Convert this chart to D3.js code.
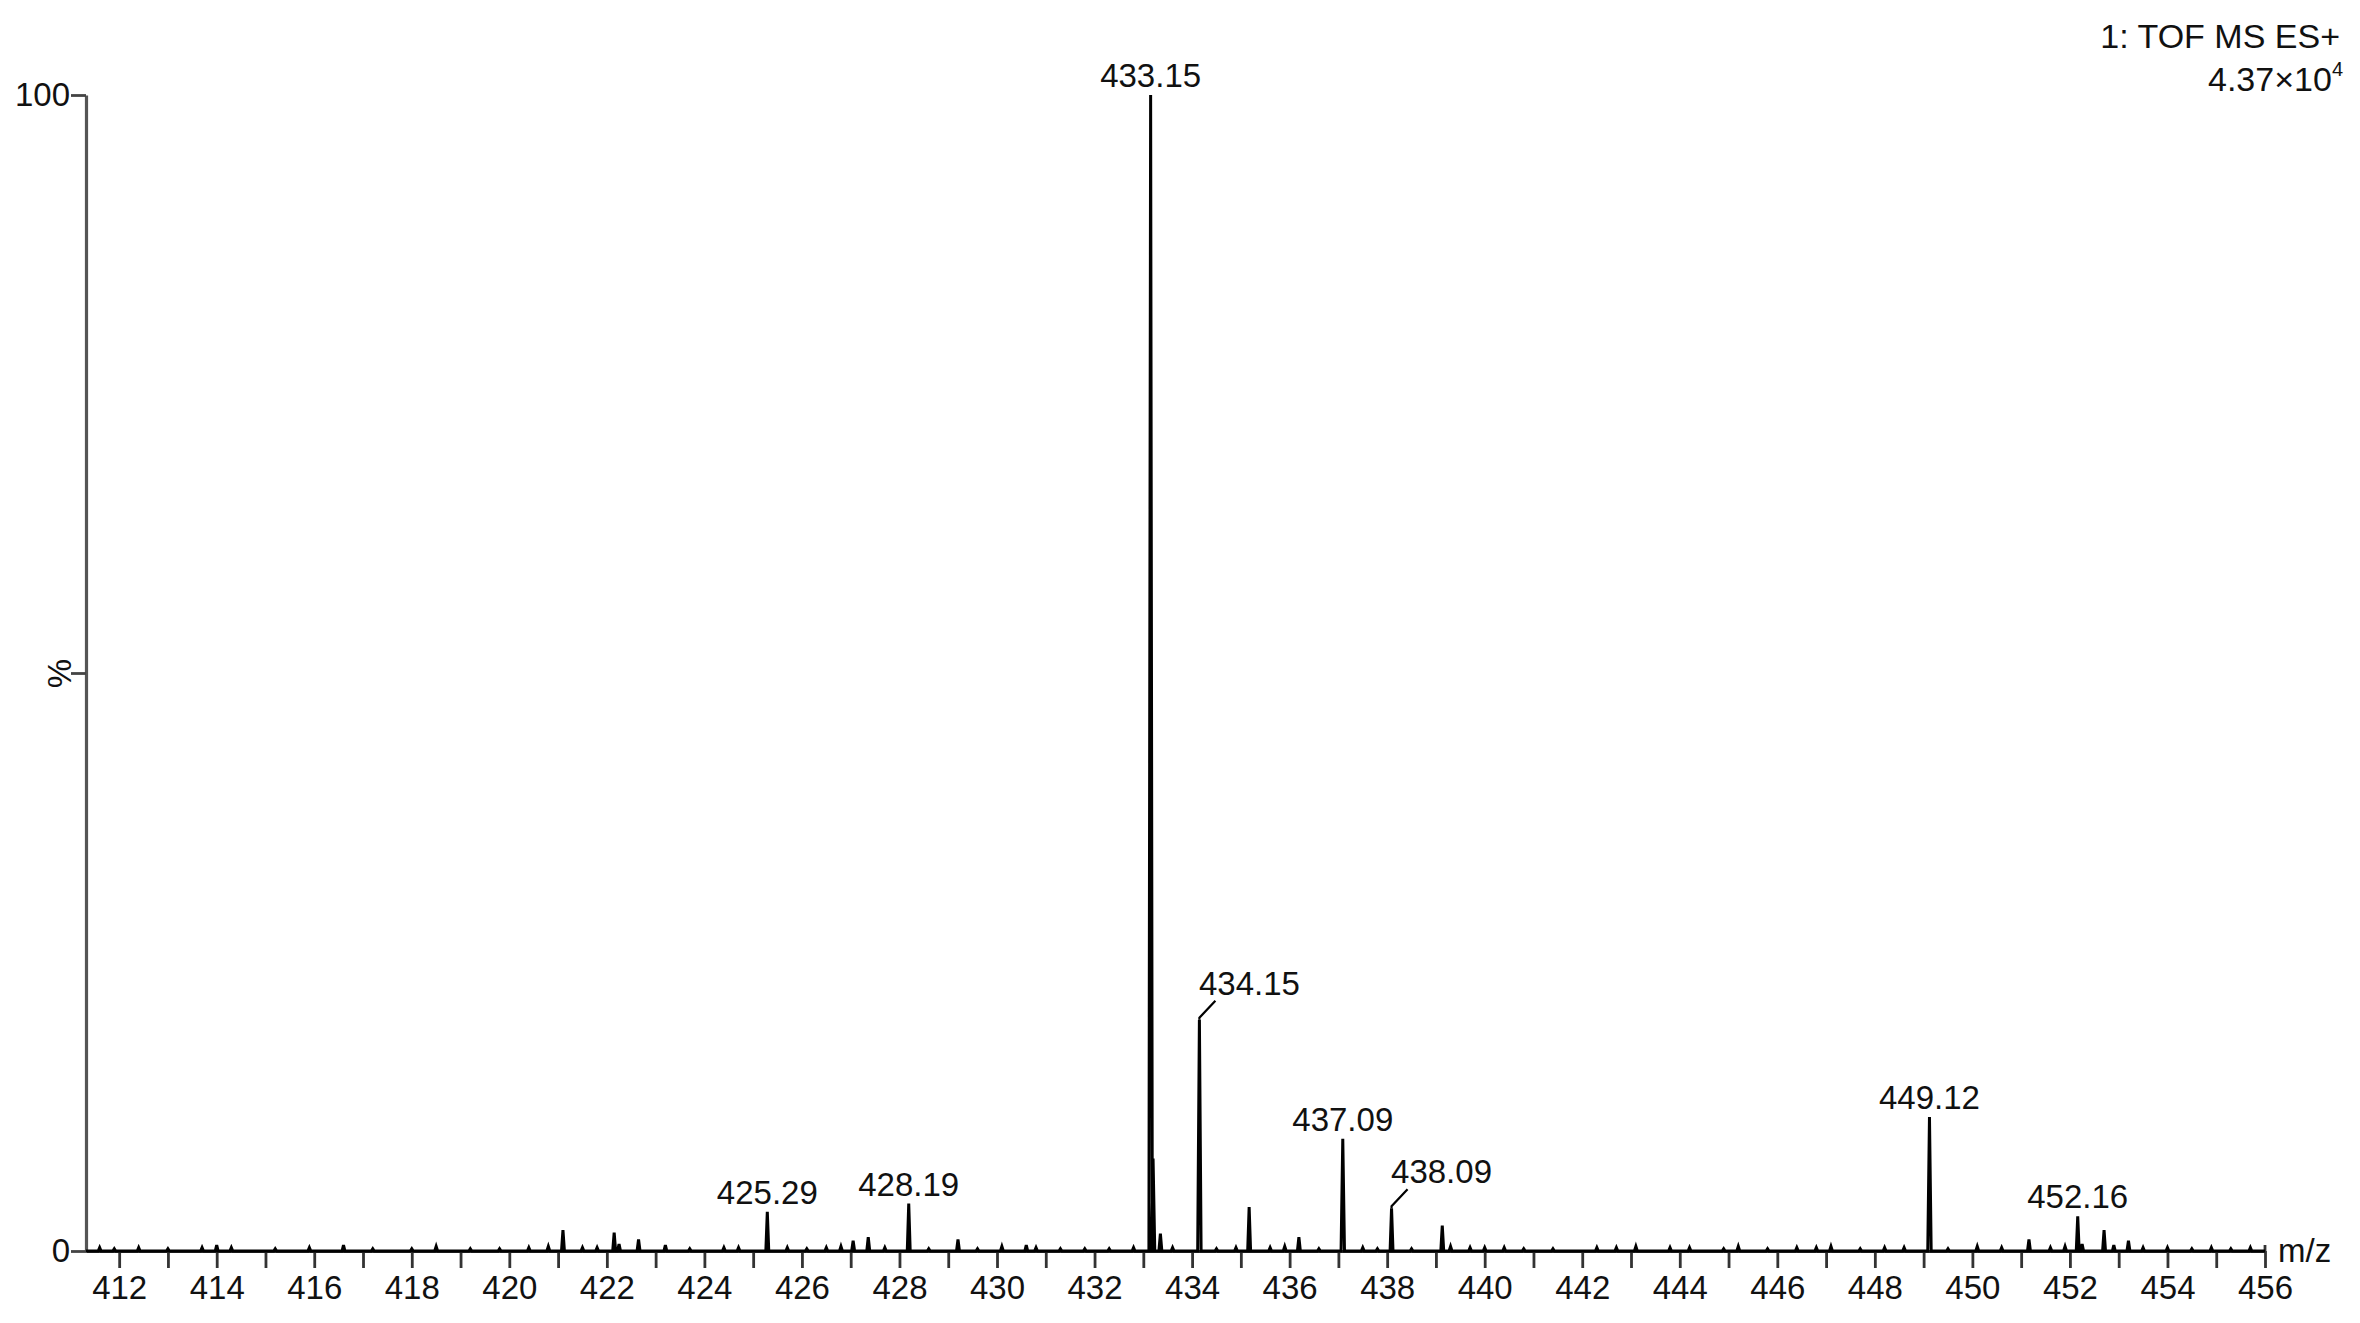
<!DOCTYPE html>
<html>
<head>
<meta charset="utf-8">
<script src="https://cdn.jsdelivr.net/npm/d3@7"></script>
<style>
  html, body { margin: 0; padding: 0; background: #fff; }
  svg { display: block; }
  text { font-family: "Liberation Sans", Arial, sans-serif; fill: #111; }
</style>
</head>
<body>
<svg id="chart" width="2360" height="1323"></svg>
<script>
// ---- data ----
const mzValues = [
  411.6, 411.9, 412.4, 413.0, 413.7, 414.0, 414.3, 415.2, 415.9, 416.6, 417.2, 418.0, 418.5,
  419.2, 419.8, 420.4, 420.8, 421.1, 421.5, 421.8, 422.15, 422.25, 422.65, 423.2, 423.7, 424.4,
  424.7, 425.29, 425.7, 426.1, 426.5, 426.8, 427.05, 427.36, 427.7, 428.19, 428.6, 429.2, 429.6,
  430.1, 430.6, 430.8, 431.3, 431.8, 432.3, 432.8, 433.15, 433.2, 433.35, 433.6, 434.15, 434.5,
  434.9, 435.17, 435.6, 435.9, 436.19, 436.6, 437.09, 437.5, 437.8, 438.09, 438.5, 439.13, 439.3,
  439.7, 440.0, 440.4, 440.8, 441.4, 442.3, 442.7, 443.1, 443.8, 444.2, 444.9, 445.2, 445.8,
  446.4, 446.8, 447.1, 447.7, 448.2, 448.6, 449.12, 449.5, 450.1, 450.6, 451.16, 451.6, 451.9,
  452.16, 452.25, 452.7, 452.9, 453.2, 453.5, 454.0, 454.5, 454.9, 455.3, 455.7
];
const intensityValues = [
  0.3, 0.2, 0.3, 0.2, 0.3, 0.5, 0.3, 0.2, 0.3, 0.5, 0.2, 0.2, 0.4,
  0.2, 0.2, 0.3, 0.4, 1.8, 0.3, 0.3, 1.6, 0.6, 1.0, 0.5, 0.2, 0.3,
  0.3, 3.4, 0.3, 0.2, 0.3, 0.4, 0.9, 1.2, 0.3, 4.1, 0.2, 1.0, 0.2,
  0.4, 0.5, 0.3, 0.2, 0.2, 0.2, 0.3, 100, 8.0, 1.5, 0.3, 20.0, 0.2,
  0.3, 3.8, 0.3, 0.4, 1.2, 0.2, 9.7, 0.3, 0.2, 3.7, 0.2, 2.2, 0.4,
  0.3, 0.3, 0.3, 0.2, 0.2, 0.3, 0.3, 0.4, 0.3, 0.3, 0.2, 0.4, 0.2,
  0.3, 0.3, 0.4, 0.2, 0.3, 0.3, 11.6, 0.2, 0.4, 0.3, 1.0, 0.3, 0.4,
  3.0, 0.6, 1.8, 0.5, 0.9, 0.3, 0.3, 0.2, 0.3, 0.2, 0.3
];
// labelled peaks
const labelMz = [425.29, 428.19, 433.15, 434.15, 437.09, 438.09, 449.12, 452.16];
const labelText = ["425.29", "428.19", "433.15", "434.15", "437.09", "438.09", "449.12", "452.16"];
const labelLeader = [false, false, false, true, false, true, false, false];

const xTicks = d3.range(412, 457, 1);
const xTickLabels = d3.range(412, 457, 2);
const yTicks = [0, 50, 100];
const yTickLabels = ["0", "%", "100"];

const titleLine1 = "1: TOF MS ES+";
const titleLine2 = "4.37×10";
const titleExp = "4";
const xAxisName = "m/z";

// ---- layout ----
const svg = d3.select("#chart");
const x = d3.scaleLinear().domain([411.32, 456]).range([86, 2265]);
const y = d3.scaleLinear().domain([0, 100]).range([1251, 95]);

const peaks = mzValues.map((m, i) => ({ mz: m, v: intensityValues[i] }));

// x axis
const xAxis = d3.axisBottom(x)
  .tickValues(xTicks)
  .tickSize(17)
  .tickSizeOuter(0)
  .tickFormat(d => (xTickLabels.includes(d) ? String(d) : ""));
const gx = svg.append("g").attr("transform", `translate(0,${y(0)})`).call(xAxis);
gx.select(".domain").attr("stroke", "#333").attr("stroke-width", 3);
gx.selectAll(".tick line").attr("stroke", "#333").attr("stroke-width", 2.8);
gx.selectAll(".tick text").attr("font-size", 33).attr("y", 25).attr("dy", "0.71em")
  .attr("fill", "#111");
gx.append("line").attr("x1", x(456)).attr("x2", x(456)).attr("y1", 0).attr("y2", -6)
  .attr("stroke", "#333").attr("stroke-width", 2.8);

// y axis
const yAxis = d3.axisLeft(y)
  .tickValues(yTicks)
  .tickSize(15)
  .tickSizeOuter(0)
  .tickFormat((d, i) => yTickLabels[i]);
const gy = svg.append("g").attr("transform", `translate(${x(411.32)},0)`).call(yAxis);
gy.select(".domain").attr("stroke", "#555").attr("stroke-width", 3.2);
gy.selectAll(".tick line").attr("stroke", "#444").attr("stroke-width", 2.8);
gy.selectAll(".tick text").attr("font-size", 33).attr("x", -16).attr("fill", "#111");
gy.selectAll(".tick").filter(d => d === 50).select("text")
  .attr("x", null).attr("dy", null)
  .attr("text-anchor", "middle")
  .attr("transform", "translate(-27,0) rotate(-90)")
  .attr("dy", "0.35em");

// spectrum profile
const pts = [[x.domain()[0], 0]];
peaks.forEach(p => {
  const w = p.v > 5 ? 0.035 : 0.03;
  pts.push([p.mz - w, 0], [p.mz, p.v], [p.mz + w, 0]);
});
pts.push([456, 0]);
const line = d3.line().x(d => x(d[0])).y(d => y(d[1]));
svg.append("path")
  .attr("d", line(pts))
  .attr("fill", "none")
  .attr("stroke", "#000")
  .attr("stroke-width", 3)
  .attr("stroke-linejoin", "miter");

// peak labels
labelMz.forEach((m, i) => {
  const p = peaks.find(q => q.mz === m);
  const px = x(p.mz), py = y(p.v);
  if (labelLeader[i]) {
    const lx = px + 16, ly = py - 19;
    svg.append("path")
      .attr("d", `M${px},${py} L${px},${py - 2} L${lx},${ly}`)
      .attr("fill", "none").attr("stroke", "#000").attr("stroke-width", 2.2);
    svg.append("text")
      .attr("x", lx + 34).attr("y", ly - 6)
      .attr("text-anchor", "middle").attr("font-size", 33)
      .text(labelText[i]);
  } else {
    svg.append("text")
      .attr("x", px).attr("y", py - 8)
      .attr("text-anchor", "middle").attr("font-size", 33)
      .text(labelText[i]);
  }
});

// title block
svg.append("text").attr("x", 2340).attr("y", 48).attr("text-anchor", "end")
  .attr("font-size", 34).text(titleLine1);
const t2 = svg.append("text").attr("x", 2343).attr("y", 91).attr("text-anchor", "end")
  .attr("font-size", 34);
t2.append("tspan").text(titleLine2);
t2.append("tspan").attr("font-size", 20).attr("dy", -15).text(titleExp);

// axis name
svg.append("text").attr("x", 2278).attr("y", 1262).attr("font-size", 33).text(xAxisName);
</script>
</body>
</html>
